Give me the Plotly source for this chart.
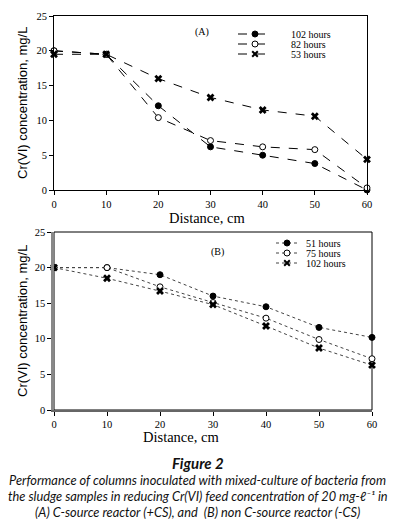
import plotly.graph_objects as go

distance = [0, 10, 20, 30, 40, 50, 60]

# Panel A: C-source reactor (+CS)
a_names = ["102 hours", "82 hours", "53 hours"]
a_102 = [20.0, 19.5, 12.1, 6.2, 5.0, 3.8, 0.0]
a_82 = [20.0, 19.5, 10.4, 7.1, 6.2, 5.8, 0.3]
a_53 = [19.5, 19.5, 16.0, 13.3, 11.5, 10.6, 4.4]

# Panel B: non C-source reactor (-CS)
b_names = ["51 hours", "75 hours", "102 hours"]
b_51 = [20.0, 20.0, 19.0, 16.0, 14.5, 11.6, 10.2]
b_75 = [20.0, 20.0, 17.3, 15.1, 12.9, 9.9, 7.2]
b_102 = [20.0, 18.5, 16.7, 14.8, 11.8, 8.7, 6.3]

x_ticks = [0, 10, 20, 30, 40, 50, 60]
y_ticks = [0, 5, 10, 15, 20, 25]

W, H = 395, 524
SERIF = "Liberation Serif, Times New Roman, serif"
SANS = "Liberation Sans, Arial, sans-serif"
CAP = "Lato, Open Sans, sans-serif"


def px(x):
    return x / W


def py(y):
    return 1 - y / H


fig = go.Figure()

kinds = ["filled", "open", "cross"]


def marker_for(kind):
    if kind == "filled":
        return dict(symbol="circle", size=6, color="black", line=dict(color="black", width=1))
    if kind == "open":
        return dict(symbol="circle", size=6, color="white", line=dict(color="black", width=1))
    return dict(symbol="x", size=7, color="black", line=dict(color="black", width=0))


for name, ys, k in zip(a_names, [a_102, a_82, a_53], kinds):
    fig.add_trace(go.Scatter(
        x=distance, y=ys, name=name, mode="lines+markers",
        line=dict(color="black", width=1, dash="dash"),
        marker=marker_for(k), xaxis="x", yaxis="y", cliponaxis=False, showlegend=False,
    ))

for name, ys, k in zip(b_names, [b_51, b_75, b_102], kinds):
    fig.add_trace(go.Scatter(
        x=distance, y=ys, name=name, mode="lines+markers",
        line=dict(color="#444", width=1, dash="dot"),
        marker=marker_for(k), xaxis="x2", yaxis="y2", cliponaxis=False, showlegend=False,
    ))

axis_common = dict(
    tickmode="array", ticks="outside", ticklen=4, tickwidth=1, tickcolor="black",
    showgrid=False, zeroline=False, showline=True, linecolor="black", linewidth=1,
    tickfont=dict(family=SERIF, size=10.5, color="black"), automargin=False,
)

fig.update_layout(
    width=W, height=H,
    margin=dict(l=0, r=0, t=0, b=0, autoexpand=False),
    paper_bgcolor="white", plot_bgcolor="white",
    showlegend=False,
    xaxis=dict(domain=[px(54), px(367)], anchor="y", range=[0, 60], tickvals=x_ticks,
               mirror=True, **axis_common),
    yaxis=dict(domain=[py(190), py(16)], anchor="x", range=[0, 25], tickvals=y_ticks,
               mirror=True, **axis_common),
    xaxis2=dict(domain=[px(54), px(372)], anchor="y2", range=[0, 60], tickvals=x_ticks,
                **{**axis_common, "linecolor": "#666", "linewidth": 1.5}),
    yaxis2=dict(domain=[py(410), py(232)], anchor="x2", range=[0, 25], tickvals=y_ticks,
                **{**axis_common, "linecolor": "#888", "linewidth": 2.5}),
)

shapes = []
# thin black frame around panel B
shapes.append(dict(type="rect", xref="x2 domain", yref="y2 domain", x0=0, x1=1, y0=0, y1=1,
                   line=dict(color="black", width=1), layer="below"))


def legend_key(kind, x0, x1, y, dash, color):
    out = [dict(type="line", xref="paper", yref="paper", x0=px(x0), x1=px(x1),
                y0=py(y), y1=py(y), line=dict(color=color, width=1, dash=dash))]
    xc = (x0 + x1) / 2
    base = dict(xref="paper", yref="paper", xsizemode="pixel", ysizemode="pixel",
                xanchor=px(xc), yanchor=py(y))
    if kind == "cross":
        out.append(dict(type="path", path="M-2.8,-2.8 L2.8,2.8 M-2.8,2.8 L2.8,-2.8",
                        line=dict(color="black", width=2), **base))
    else:
        out.append(dict(type="circle", x0=-3, x1=3, y0=-3, y1=3,
                        fillcolor="black" if kind == "filled" else "white",
                        line=dict(color="black", width=1), **base))
    return out


ann = []
for i, (name, k) in enumerate(zip(a_names, kinds)):
    yy = 34 + 10 * i
    shapes += legend_key(k, 238, 272, yy, "dash", "black")
    ann.append(dict(text=name, x=px(289), y=py(yy), xanchor="left",
                    font=dict(family=SERIF, size=10, color="black")))
for i, (name, k) in enumerate(zip(b_names, kinds)):
    yy = 243 + 10 * i
    shapes += legend_key(k, 276, 298, yy, "dot", "#444")
    ann.append(dict(text=name, x=px(304), y=py(yy), xanchor="left",
                    font=dict(family=SERIF, size=10, color="black")))

fig.update_layout(shapes=shapes)

ann.append(dict(text="(A)", x=px(202), y=py(32),
                font=dict(family=SERIF, size=10, color="black")))
ann.append(dict(text="(B)", x=px(217), y=py(252),
                font=dict(family=SERIF, size=10, color="black")))
ann.append(dict(text="Distance, cm", x=px(207), y=py(217.5),
                font=dict(family=SERIF, size=14.5, color="black")))
ann.append(dict(text="Distance, cm", x=px(181), y=py(437),
                font=dict(family=SERIF, size=14.5, color="black")))
ann.append(dict(text="Cr(VI) concentration, mg/L", x=px(22), y=py(103), textangle=-90,
                font=dict(family=SANS, size=13, color="black")))
ann.append(dict(text="Cr(VI) concentration, mg/L", x=px(22), y=py(321), textangle=-90,
                font=dict(family=SANS, size=13, color="black")))
ann.append(dict(text="<b><i>Figure 2</i></b>", x=0.5, y=py(463),
                font=dict(family=CAP, size=15, color="#111")))
cap_lines = [
    "Performance of columns inoculated with mixed-culture of bacteria from",
    "the sludge samples in reducing Cr(VI) feed concentration of 20 mg-ℓ⁻¹ in",
    "(A) C-source reactor (+CS), and  (B) non C-source reactor (-CS)",
]
for i, t in enumerate(cap_lines):
    ann.append(dict(text="<i>" + t + "</i>", x=0.5, y=py(480 + 16 * i),
                    font=dict(family=CAP, size=12.8, color="#111")))
for a in ann:
    a.setdefault("xref", "paper")
    a.setdefault("yref", "paper")
    a.setdefault("showarrow", False)
    a.setdefault("xanchor", "center")
    a.setdefault("yanchor", "middle")
fig.update_layout(annotations=ann)

fig.write_html("out.html", config={"displayModeBar": False},
               post_script="document.body.style.margin='0';document.body.style.overflow='hidden';")
